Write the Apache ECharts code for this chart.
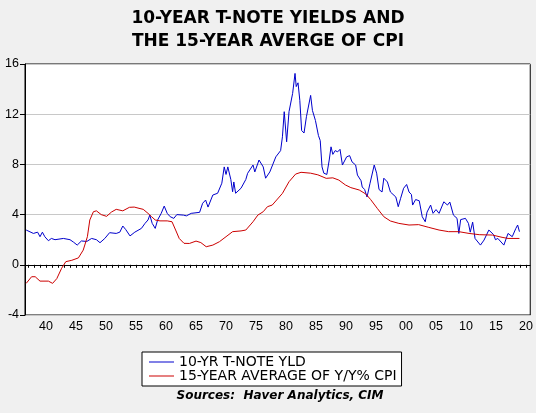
<!DOCTYPE html>
<html lang="en">
  <head>
    <meta charset="UTF-8" />
    <title>10-Year T-Note Yields and the 15-Year Average of CPI</title>
    <script src="https://cdn.jsdelivr.net/npm/echarts@6.0.0/dist/echarts.min.js"></script>
    <style>
      html, body { margin: 0; padding: 0; background: #f0f0f0; }
      #main { width: 536px; height: 413px; }
    </style>
  </head>
  <body>
    <div id="main"></div>
    <script>
      // 10-year T-note yield (%)
      var yieldYears = [1936.7, 1937.9, 1938.6, 1939.0, 1939.4, 1939.8, 1940.4, 1940.9, 1941.5, 1942.9,
        1944.0, 1944.6, 1945.2, 1945.9, 1946.8, 1947.6, 1948.4, 1949.0, 1949.8, 1950.6,
        1951.7, 1952.3, 1952.8, 1953.3, 1954.0, 1954.8, 1955.9, 1956.5, 1957.0, 1957.3,
        1957.7, 1958.2, 1958.6, 1959.2, 1959.7, 1960.2, 1960.7, 1961.3, 1961.8, 1962.9,
        1963.4, 1964.2, 1965.6, 1966.1, 1966.6, 1967.0, 1967.8, 1968.6, 1969.3, 1969.7,
        1970.0, 1970.3, 1970.8, 1971.1, 1971.3, 1971.6, 1972.5, 1973.3, 1973.6, 1974.5,
        1974.8, 1975.5, 1976.2, 1976.6, 1977.3, 1978.3, 1979.1, 1979.4, 1979.7, 1980.1,
        1980.5, 1981.1, 1981.5, 1981.7, 1982.0, 1982.3, 1982.6, 1983.0, 1983.4, 1983.7,
        1984.1, 1984.4, 1984.9, 1985.4, 1985.7, 1986.0, 1986.3, 1986.5, 1986.8, 1987.2,
        1987.5, 1987.8, 1988.2, 1988.6, 1989.0, 1989.4, 1990.1, 1990.6, 1991.0, 1991.6,
        1991.9, 1992.5, 1992.7, 1993.1, 1993.5, 1994.0, 1994.7, 1995.1, 1995.5, 1996.0,
        1996.3, 1996.9, 1997.4, 1998.3, 1998.7, 1999.1, 1999.6, 2000.1, 2000.5, 2000.9,
        2001.1, 2001.6, 2002.2, 2002.7, 2003.2, 2003.5, 2004.1, 2004.5, 2005.0, 2005.5,
        2006.3, 2006.9, 2007.3, 2007.9, 2008.5, 2008.8, 2009.1, 2009.9, 2010.4, 2010.7,
        2011.1, 2011.5, 2012.4, 2013.0, 2013.8, 2014.6, 2014.9, 2015.3, 2016.3, 2017.0,
        2017.7, 2018.3, 2018.6, 2018.9];
      var yieldValues = [2.77, 2.5, 2.6, 2.24, 2.6, 2.24, 1.92, 2.1, 2.0, 2.1,
        2.0, 1.8, 1.57, 1.9, 1.86, 2.1, 2.0, 1.76, 2.1, 2.56,
        2.5, 2.6, 3.09, 2.8, 2.3, 2.6, 2.9, 3.3, 3.57, 3.96,
        3.3, 2.9, 3.57, 4.1, 4.68, 4.1, 3.83, 3.7, 4.0, 3.96,
        3.9, 4.1, 4.18, 4.9, 5.16, 4.6, 5.56, 5.7, 6.5, 7.8,
        7.2, 7.8, 6.8, 5.82, 6.6, 5.7, 6.1, 6.8, 7.29, 7.95,
        7.4, 8.35, 7.8, 6.9, 7.4, 8.6, 9.1, 10.2, 12.2, 9.8,
        12.2, 13.66, 15.25, 14.2, 14.5, 13.1, 10.7, 10.5, 11.8, 11.7,
        13.5, 12.3, 11.5, 10.3, 9.9, 7.8, 7.3, 7.4, 7.2, 8.35,
        9.4, 8.8, 9.1, 9.0, 9.2, 7.95, 8.6, 8.7, 8.2, 7.95,
        7.15, 6.7, 6.2, 6.0, 5.4, 6.5, 7.95, 7.3, 6.0, 5.8,
        6.9, 6.6, 5.8, 5.4, 4.63, 5.3, 6.1, 6.4, 5.8, 5.6,
        4.76, 5.2, 5.1, 3.83, 3.43, 4.2, 4.76, 4.1, 4.4, 4.1,
        5.02, 4.76, 5.0, 3.96, 3.7, 2.5, 3.6, 3.7, 3.3, 2.6,
        3.4, 2.1, 1.57, 1.97, 2.77, 2.4, 2.0, 2.1, 1.57, 2.5,
        2.24, 2.9, 3.17, 2.64];

      // 15-year average of y/y % CPI
      var cpiYears = [1936.7, 1937.6, 1938.2, 1939.0, 1940.4, 1941.1, 1941.8, 1942.6, 1943.3, 1944.3,
        1945.4, 1946.2, 1946.9, 1947.3, 1947.9, 1948.4, 1949.2, 1950.1, 1950.9, 1951.7,
        1952.8, 1953.9, 1954.7, 1955.5, 1956.2, 1957.0, 1957.6, 1958.2, 1959.0, 1960.2,
        1961.0, 1961.6, 1962.2, 1963.0, 1963.9, 1965.0, 1965.8, 1966.7, 1967.8, 1968.9,
        1970.0, 1971.1, 1972.5, 1973.3, 1974.5, 1975.3, 1976.2, 1976.9, 1977.7, 1979.4,
        1980.5, 1981.6, 1982.5, 1984.1, 1985.3, 1986.7, 1987.8, 1988.8, 1989.9, 1990.8,
        1992.2, 1993.3, 1994.1, 1995.2, 1996.3, 1997.4, 1998.8, 2000.5, 2002.1, 2003.8,
        2005.5, 2007.1, 2008.8, 2010.5, 2012.2, 2014.4, 2016.0, 2017.0, 2018.9];
      var cpiValues = [-1.48, -0.95, -0.95, -1.3, -1.3, -1.48, -1.1, -0.28, 0.25, 0.36,
        0.55, 1.17, 2.24, 3.57, 4.23, 4.3, 4.0, 3.86, 4.2, 4.42,
        4.3, 4.58, 4.6, 4.5, 4.42, 4.1, 3.83, 3.57, 3.5, 3.5,
        3.43, 2.77, 2.1, 1.71, 1.7, 1.89, 1.77, 1.44, 1.57, 1.84,
        2.24, 2.64, 2.7, 2.77, 3.43, 3.96, 4.23, 4.63, 4.76, 5.69,
        6.62, 7.23, 7.37, 7.3, 7.17, 6.89, 6.93, 6.75, 6.36, 6.15,
        5.96, 5.64, 5.2, 4.5, 3.83, 3.49, 3.3, 3.17, 3.2, 2.98,
        2.77, 2.64, 2.64, 2.5, 2.4, 2.37, 2.19, 2.1, 2.1];

      var labelYears = [1940, 1945, 1950, 1955, 1960, 1965, 1970, 1975, 1980, 1985,
        1990, 1995, 2000, 2005, 2010, 2015, 2020];
      var tickYears = [];
      for (var y = 1937; y <= 2020; y++) tickYears.push(y);

      function pairs(xs, ys) {
        return xs.map(function (x, i) { return [x, ys[i]]; });
      }

      var myChart = echarts.init(document.getElementById("main"));

      var option = {
        animation: false,
        backgroundColor: "#f0f0f0",
        title: {
          text: "10-YEAR T-NOTE YIELDS AND\nTHE 15-YEAR AVERGE OF CPI",
          left: "center",
          top: 2,
          textStyle: {
            fontFamily: "DejaVu Sans",
            fontWeight: "bold",
            fontSize: 17,
            lineHeight: 23,
            color: "#000",
          },
        },
        grid: {
          left: 25,
          right: 4,
          top: 64,
          bottom: 98,
          show: true,
          backgroundColor: "#fff",
          borderColor: "#000",
          borderWidth: 1,
        },
        xAxis: {
          type: "value",
          min: 1936.5,
          max: 2020.7,
          axisLine: { lineStyle: { color: "#000" } },
          axisTick: { customValues: tickYears, length: 3, lineStyle: { color: "#000" } },
          axisLabel: {
            customValues: labelYears,
            formatter: function (v) { return String(v).slice(2); },
            color: "#000",
            fontFamily: "Liberation Sans",
            fontSize: 12.5,
            margin: 5,
          },
          splitLine: { show: false },
        },
        yAxis: {
          type: "value",
          min: -4,
          max: 16,
          interval: 4,
          axisLine: { show: true, lineStyle: { color: "#000" } },
          axisTick: { show: true, length: 5, lineStyle: { color: "#000" } },
          axisLabel: { color: "#000", fontFamily: "Liberation Sans", fontSize: 12.5, margin: 6 },
          splitLine: { lineStyle: { color: "#c8c8c8" } },
        },
        legend: {
          orient: "vertical",
          left: 142,
          top: 352,
          padding: [3, 5, 3, 7],
          itemGap: 0,
          itemWidth: 25,
          itemHeight: 1,
          icon: "rect",
          backgroundColor: "#fff",
          borderColor: "#000",
          borderWidth: 1,
          textStyle: { color: "#000", fontFamily: "DejaVu Sans", fontSize: 14, lineHeight: 13 },
          data: ["10-YR T-NOTE YLD", "15-YEAR AVERAGE OF Y/Y% CPI"],
        },
        graphic: [
          {
            type: "text",
            style: {
              x: 280,
              y: 396,
              align: "center",
              verticalAlign: "middle",
              text: "Sources:  Haver Analytics, CIM",
              font: "italic bold 12px 'DejaVu Sans'",
              fill: "#000",
            },
          },
        ],
        series: [
          {
            name: "10-YR T-NOTE YLD",
            type: "line",
            symbol: "none",
            data: pairs(yieldYears, yieldValues),
            lineStyle: { color: "#0000cc", width: 1 },
            itemStyle: { color: "#0000cc" },
          },
          {
            name: "15-YEAR AVERAGE OF Y/Y% CPI",
            type: "line",
            symbol: "none",
            data: pairs(cpiYears, cpiValues),
            lineStyle: { color: "#cc0000", width: 1 },
            itemStyle: { color: "#cc0000" },
          },
        ],
      };

      myChart.setOption(option);
    </script>
  </body>
</html>
